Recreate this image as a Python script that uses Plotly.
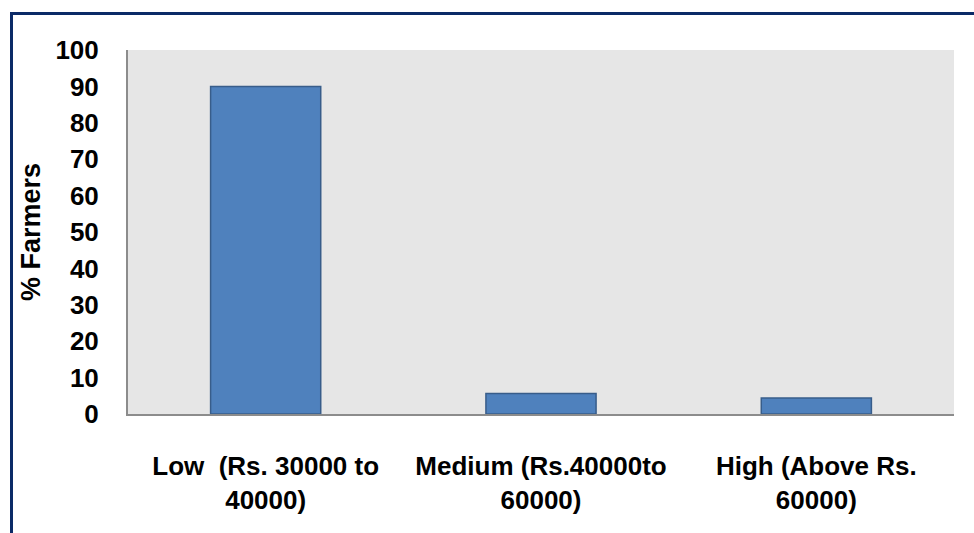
import plotly.graph_objects as go

# Income groups of farmers and their share (%)
categories = [
    "Low  (Rs. 30000 to<br>40000)",
    "Medium (Rs.40000to<br>60000)",
    "High (Above Rs.<br>60000)",
]
farmers_pct = [90, 5.6, 4.4]
y_ticks = list(range(0, 101, 10))

W, H = 974, 533
ML, MR, MT, MB = 128, 20, 50, 119
pw, ph = W - ML - MR, H - MT - MB

fig = go.Figure(
    go.Bar(
        x=categories,
        y=farmers_pct,
        marker=dict(color="#4F81BD", line=dict(color="#385D8A", width=1.5)),
        width=0.4,
    )
)

font_family = "Liberation Sans, Arial, sans-serif"

fig.update_layout(
    width=W,
    height=H,
    margin=dict(l=ML, r=MR, t=MT, b=MB, pad=0),
    paper_bgcolor="white",
    plot_bgcolor="#E6E6E6",
    showlegend=False,
    font=dict(family=font_family, color="black"),
    xaxis=dict(
        showgrid=False,
        showline=True,
        linecolor="#8C8C8C",
        linewidth=2,
        ticks="",
        tickfont=dict(size=26, weight="bold", color="black"),
        ticklabelstandoff=28,
    ),
    yaxis=dict(
        range=[0, 100],
        tickvals=y_ticks,
        showgrid=False,
        zeroline=False,
        showline=True,
        linecolor="#8C8C8C",
        linewidth=2,
        ticks="",
        tickfont=dict(size=26, weight="bold", color="black"),
        ticklabelstandoff=22,
        title=dict(
            text="% Farmers",
            font=dict(size=27, weight="bold", color="black"),
            standoff=7,
        ),
    ),
)

# Dark navy frame around the chart (runs off the right and bottom edges)
x0 = (11.5 - ML) / pw
x1 = (W + 10 - ML) / pw
y1 = (H - MB - 13.5) / ph
y0 = (H - MB - (H + 10)) / ph
fig.add_shape(
    type="rect",
    xref="paper",
    yref="paper",
    x0=x0,
    x1=x1,
    y0=y0,
    y1=y1,
    line=dict(color="#0B2A67", width=3),
    fillcolor="rgba(0,0,0,0)",
    layer="above",
)

fig.write_html("out.html")
